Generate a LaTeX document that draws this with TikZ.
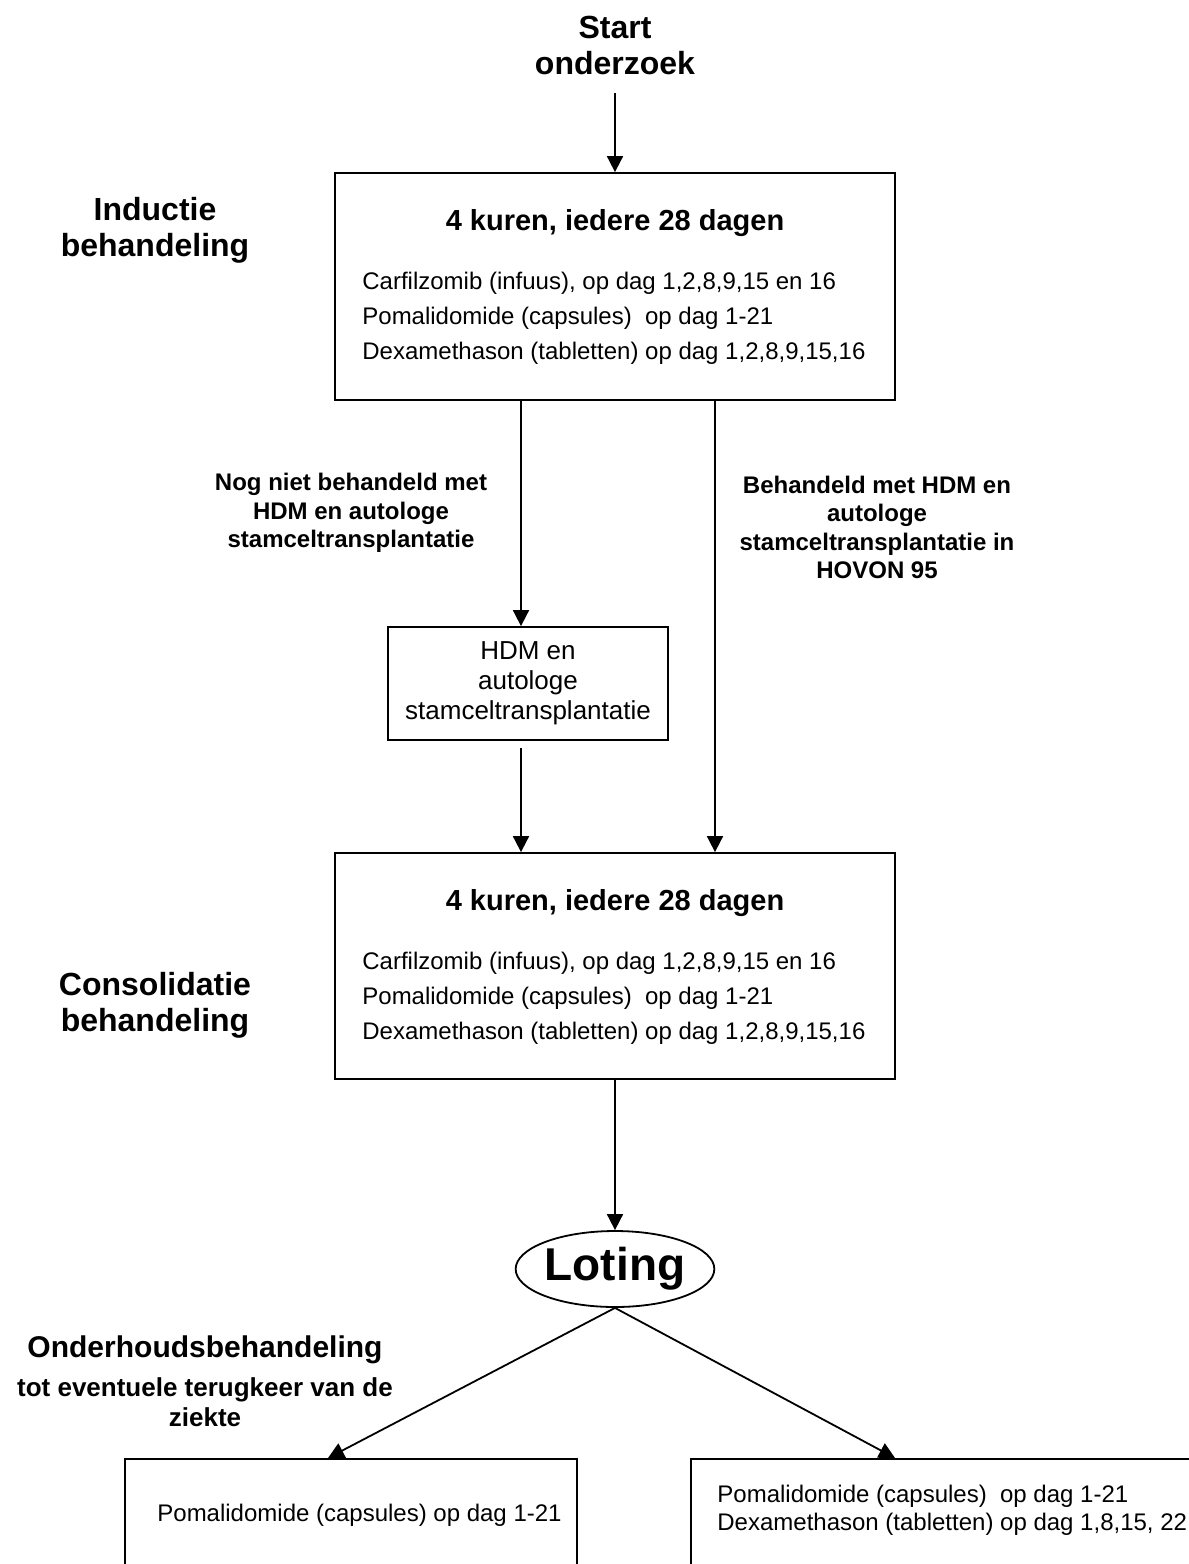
\documentclass[tikz,border=0pt]{standalone}
\usepackage{fontspec}
\setmainfont{Liberation Sans}
\usetikzlibrary{arrows.meta,shapes.geometric}

\begin{document}
\begin{tikzpicture}[x=0.5pt, y=-0.5pt,
	box/.style = {draw, line width=0.9pt, inner sep=0pt},
	arr/.style = {line width=0.9pt, -{Triangle[length=8pt, width=8pt]}},
	head/.style = {font=\bfseries\fontsize{16}{18}\selectfont, align=center},
	note/.style = {font=\bfseries\fontsize{12}{14.2}\selectfont, align=center},
	lst/.style = {font=\fontsize{12}{17.5}\selectfont, align=left, anchor=west, inner sep=0pt},
	kop/.style = {font=\bfseries\fontsize{14.5}{17}\selectfont}]
			\useasboundingbox (0,0) rectangle (1189,1564);
			\clip (0,0) rectangle (1189,1564);
			\node[head] (1) at (615,45) {Start\\onderzoek};
			\node[box, minimum width=280pt, minimum height=113.5pt] (2) at (615,286.5) {};
			\node[kop] (2a) at (615,223) {4 kuren, iedere 28 dagen};
			\node[lst] (2b) at (362,318) {Carfilzomib (infuus), op dag 1,2,8,9,15 en 16\\Pomalidomide (capsules)\ \ op dag 1-21\\Dexamethason (tabletten) op dag 1,2,8,9,15,16};
			\node[head] (i) at (155,230) {Inductie\\behandeling};
			\node[note] (3a) at (351,513) {Nog niet behandeld met\\HDM en autologe\\stamceltransplantatie};
			\node[note] (3b) at (877,527.5) {Behandeld met HDM en\\autologe\\stamceltransplantatie in\\HOVON 95};
			\node[box, minimum width=140pt, minimum height=56.5pt, align=center, font=\fontsize{13}{15}\selectfont] (4) at (528,683.5) {HDM en\\autologe\\stamceltransplantatie};
			\node[box, minimum width=280pt, minimum height=113pt] (5) at (615,966) {};
			\node[kop] (5a) at (615,903) {4 kuren, iedere 28 dagen};
			\node[lst] (5b) at (362,998) {Carfilzomib (infuus), op dag 1,2,8,9,15 en 16\\Pomalidomide (capsules)\ \ op dag 1-21\\Dexamethason (tabletten) op dag 1,2,8,9,15,16};
			\node[head] (c) at (155,1005) {Consolidatie\\behandeling};
			\node[draw, ellipse, line width=0.9pt, minimum width=95pt, minimum height=38pt, inner sep=0pt, font=\bfseries\fontsize{23}{27}\selectfont] (6) at (615,1269) {Loting};
			\node[font=\bfseries\fontsize{15}{18}\selectfont] (o) at (205,1350) {Onderhoudsbehandeling};
			\node[note, font=\bfseries\fontsize{13}{15}\selectfont] (o2) at (205,1402) {tot eventuele terugkeer van de\\ziekte};
			\node[box, anchor=north west, minimum width=226pt, minimum height=56pt] (7) at (124,1458) {};
			\node[lst] (7a) at (157,1515) {Pomalidomide (capsules) op dag 1-21};
			\node[box, anchor=north west, minimum width=270pt, minimum height=56pt] (8) at (690,1458) {};
			\node[lst, font=\fontsize{12}{14}\selectfont] (8a) at (717,1510) {Pomalidomide (capsules)\ \ op dag 1-21\\Dexamethason (tabletten) op dag 1,8,15, 22};
			\draw[arr, shorten <=6pt] (1) -- (2);
			\draw[arr] ([xshift=-47pt]2.south) -- ([xshift=-3.5pt]4.north);
			\draw[arr] ([xshift=50pt]2.south) -- ([xshift=50pt]5.north);
			\draw[arr, shorten <=3.5pt] ([xshift=-3.5pt]4.south) -- ([xshift=-47pt]5.north);
			\draw[arr] (5) -- (6);
			\draw[arr] (6.south) -- ([xshift=102pt]7.north west);
			\draw[arr] (6.south) -- ([xshift=102.5pt]8.north west);
		\end{tikzpicture}
\end{document}
